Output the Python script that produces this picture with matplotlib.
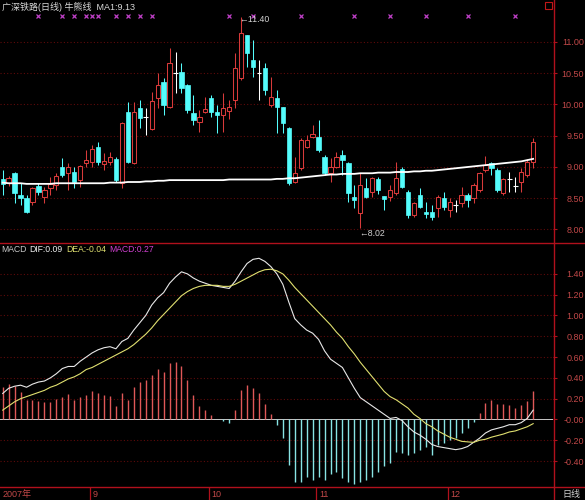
import numpy as np
import matplotlib
matplotlib.use("Agg")
import matplotlib.pyplot as plt
from matplotlib.lines import Line2D
from matplotlib.patches import Rectangle

plt.rcParams['font.family'] = ['Liberation Sans', 'Noto Sans CJK SC', 'DejaVu Sans']

# ---- data (one value per trading day) ----
title_text = "广深铁路(日线) 牛熊线"

open_ = np.array([
    8.80, 8.74, 8.90, 8.55, 8.50, 8.44, 8.70, 8.52, 8.66, 8.71,
    9.00, 8.90, 8.92, 8.79, 9.06, 9.08, 9.32, 9.05, 9.08, 9.13,
    8.75, 9.88, 9.06, 9.94, 9.80, 9.61, 10.10, 10.36, 9.96, 10.50,
    10.52, 10.31, 9.86, 9.72, 9.88, 10.10, 9.88, 9.83, 9.90, 10.07,
    10.42, 11.11, 10.71, 10.50, 10.58, 9.99, 10.10, 9.96, 9.62, 8.76,
    8.98, 9.32, 9.48, 9.48, 9.16, 8.90, 9.00, 9.19, 9.06, 8.52,
    8.26, 8.66, 8.60, 8.81, 8.54, 8.52, 8.58, 8.97, 8.60, 8.23,
    8.55, 8.28, 8.28, 8.34, 8.50, 8.31, 8.39, 8.42, 8.55, 8.50,
    8.63, 8.95, 9.06, 8.95, 8.58, 8.81, 8.70, 8.76, 8.87, 9.08])
high = np.array([
    8.95, 8.85, 8.92, 8.74, 8.55, 8.68, 8.75, 8.68, 8.84, 8.90,
    9.14, 9.06, 9.00, 9.03, 9.27, 9.35, 9.40, 9.22, 9.24, 9.16,
    9.72, 10.04, 10.04, 10.07, 9.94, 10.20, 10.50, 10.42, 10.90, 10.84,
    10.66, 10.33, 10.15, 9.91, 10.12, 10.15, 9.99, 10.18, 10.07, 10.82,
    11.40, 11.11, 11.03, 10.71, 10.66, 10.44, 10.23, 9.96, 9.64, 9.16,
    9.46, 9.51, 9.67, 9.75, 9.19, 9.14, 9.24, 9.27, 9.08, 8.71,
    8.90, 8.82, 8.84, 8.84, 8.54, 8.71, 9.08, 9.00, 8.63, 8.44,
    8.66, 8.44, 8.39, 8.55, 8.60, 8.50, 8.47, 8.68, 8.58, 8.74,
    8.92, 9.18, 9.08, 8.98, 8.82, 8.92, 8.84, 8.98, 9.13, 9.46])
low = np.array([
    8.55, 8.70, 8.42, 8.39, 8.26, 8.39, 8.55, 8.42, 8.55, 8.63,
    8.84, 8.63, 8.66, 8.68, 9.00, 9.00, 9.03, 8.95, 9.03, 8.76,
    8.66, 9.06, 9.05, 9.62, 9.51, 9.59, 9.94, 9.83, 9.94, 10.18,
    10.18, 9.86, 9.67, 9.56, 9.86, 9.80, 9.54, 9.56, 9.77, 9.94,
    10.39, 10.60, 10.44, 10.07, 10.15, 9.96, 9.54, 9.54, 8.71, 8.74,
    8.95, 9.30, 9.46, 9.24, 8.87, 8.76, 8.98, 8.87, 8.44, 8.34,
    8.02, 8.50, 8.52, 8.57, 8.31, 8.46, 8.55, 8.66, 8.18, 8.20,
    8.34, 8.18, 8.15, 8.20, 8.31, 8.20, 8.28, 8.36, 8.36, 8.42,
    8.60, 8.92, 8.87, 8.60, 8.55, 8.60, 8.60, 8.60, 8.84, 8.98])
close = np.array([
    8.72, 8.82, 8.58, 8.50, 8.28, 8.66, 8.60, 8.63, 8.73, 8.86,
    8.87, 9.00, 8.76, 9.02, 9.11, 9.29, 9.08, 9.10, 9.16, 8.79,
    9.70, 9.08, 9.88, 9.78, 9.80, 10.06, 10.31, 9.99, 10.66, 10.50,
    10.26, 9.91, 9.75, 9.80, 9.93, 9.88, 9.83, 9.94, 9.96, 10.58,
    11.14, 10.82, 10.60, 10.50, 10.23, 10.12, 9.96, 9.70, 8.74, 8.90,
    9.43, 9.43, 9.53, 9.27, 8.90, 9.00, 9.16, 9.11, 8.58, 8.47,
    8.71, 8.52, 8.82, 8.63, 8.49, 8.63, 8.82, 8.68, 8.23, 8.42,
    8.36, 8.24, 8.20, 8.52, 8.36, 8.44, 8.39, 8.55, 8.47, 8.71,
    8.90, 9.03, 8.98, 8.63, 8.81, 8.81, 8.70, 8.92, 9.08, 9.40])
ma1 = np.array([
    8.75, 8.74, 8.74, 8.74, 8.73, 8.73, 8.73, 8.73, 8.73, 8.74,
    8.74, 8.74, 8.74, 8.74, 8.74, 8.74, 8.74, 8.74, 8.75, 8.75,
    8.75, 8.76, 8.76, 8.76, 8.77, 8.77, 8.78, 8.78, 8.79, 8.79,
    8.79, 8.79, 8.79, 8.79, 8.79, 8.79, 8.79, 8.79, 8.80, 8.80,
    8.80, 8.80, 8.80, 8.80, 8.80, 8.80, 8.81, 8.81, 8.82, 8.82,
    8.83, 8.84, 8.85, 8.86, 8.87, 8.88, 8.88, 8.89, 8.89, 8.89,
    8.90, 8.90, 8.90, 8.91, 8.91, 8.91, 8.92, 8.92, 8.92, 8.93,
    8.93, 8.94, 8.94, 8.95, 8.96, 8.97, 8.98, 8.99, 9.00, 9.01,
    9.02, 9.03, 9.04, 9.05, 9.06, 9.07, 9.08, 9.09, 9.11, 9.13])

dif = np.array([
    0.25, 0.30, 0.32, 0.33, 0.31, 0.34, 0.36, 0.37, 0.40, 0.44,
    0.49, 0.51, 0.51, 0.56, 0.60, 0.64, 0.67, 0.69, 0.70, 0.68,
    0.75, 0.78, 0.86, 0.93, 1.00, 1.10, 1.17, 1.22, 1.31, 1.37,
    1.42, 1.40, 1.36, 1.33, 1.31, 1.29, 1.28, 1.27, 1.26, 1.33,
    1.42, 1.50, 1.54, 1.55, 1.52, 1.47, 1.40, 1.30, 1.13, 0.97,
    0.91, 0.86, 0.83, 0.77, 0.66, 0.58, 0.54, 0.50, 0.40, 0.30,
    0.21, 0.17, 0.13, 0.09, 0.05, 0.01, 0.02, -0.01, -0.07, -0.12,
    -0.15, -0.19, -0.24, -0.26, -0.27, -0.28, -0.29, -0.28, -0.26, -0.22,
    -0.18, -0.13, -0.10, -0.085, -0.07, -0.05, -0.05, -0.03, 0.01, 0.09])
dea = np.array([
    0.09, 0.13, 0.17, 0.20, 0.22, 0.24, 0.26, 0.28, 0.31, 0.33,
    0.36, 0.39, 0.41, 0.44, 0.48, 0.50, 0.53, 0.56, 0.59, 0.62,
    0.65, 0.68, 0.72, 0.77, 0.82, 0.88, 0.95, 1.01, 1.07, 1.13,
    1.19, 1.23, 1.26, 1.28, 1.29, 1.29, 1.29, 1.28, 1.28, 1.30,
    1.33, 1.36, 1.39, 1.42, 1.44, 1.445, 1.43, 1.40, 1.34, 1.27,
    1.21, 1.15, 1.09, 1.03, 0.97, 0.91, 0.84, 0.78, 0.70, 0.63,
    0.55, 0.48, 0.41, 0.34, 0.27, 0.22, 0.19, 0.15, 0.11, 0.05,
    0.01, -0.04, -0.07, -0.11, -0.14, -0.17, -0.19, -0.21, -0.215, -0.22,
    -0.20, -0.19, -0.17, -0.155, -0.14, -0.12, -0.11, -0.09, -0.07, -0.04])
macd = np.array([
    0.315, 0.346, 0.322, 0.268, 0.188, 0.188, 0.18, 0.17, 0.17, 0.20,
    0.22, 0.245, 0.19, 0.22, 0.235, 0.277, 0.258, 0.235, 0.226, 0.13,
    0.25, 0.19, 0.315, 0.36, 0.38, 0.43, 0.49, 0.46, 0.54, 0.556,
    0.51, 0.38, 0.235, 0.13, 0.09, 0.043, 0.005, -0.015, -0.03, 0.09,
    0.283, 0.33, 0.30, 0.25, 0.15, 0.053, -0.053, -0.18, -0.44, -0.60,
    -0.60, -0.55, -0.58, -0.55, -0.58, -0.52, -0.50, -0.56, -0.60, -0.62,
    -0.60, -0.58, -0.55, -0.50, -0.45, -0.42, -0.31, -0.325, -0.34, -0.325,
    -0.29, -0.26, -0.34, -0.245, -0.23, -0.197, -0.18, -0.127, -0.085, -0.02,
    0.06, 0.156, 0.19, 0.146, 0.146, 0.14, 0.107, 0.14, 0.18, 0.27])

signal_days = [6, 10, 12, 14, 15, 16, 19, 21, 23, 25, 38, 42, 50, 59, 65, 71, 78, 86]
month_labels = ["2007年", "9", "10", "11", "12"]
month_start = [0, 15, 35, 53, 75]

price_ticks = [8.0, 8.5, 9.0, 9.5, 10.0, 10.5, 11.0]
macd_ticks = [-0.4, -0.2, 0.0, 0.2, 0.4, 0.6, 0.8, 1.0, 1.2, 1.4]
macd_tick_labels = ["-0.40", "-0.20", "-0.00", "0.20", "0.40", "0.60",
                    "0.80", "1.00", "1.20", "1.40"]

# ---- colours ----
RED = '#d83a3a'
CYAN = '#54fcfc'
FRAME = '#b0101c'
GRID = '#5e0a0a'
LABEL = '#c04848'

W, H = 585, 500
fig = plt.figure(figsize=(W / 100, H / 100), dpi=100, facecolor='black')


def px_axes(x0, y0, x1, y1):
    ax = fig.add_axes([x0 / W, 1 - y1 / H, (x1 - x0) / W, (y1 - y0) / H])
    ax.set_facecolor('black')
    for s in ax.spines.values():
        s.set_visible(False)
    ax.set_xlim(-0.45, 92.33)
    ax.set_xticks([])
    return ax


ax_p = px_axes(0, 0, 553, 243)
ax_m = px_axes(0, 243, 553, 487)
ax_d = px_axes(0, 487, 553, 500)

idx = np.arange(len(close))

# ---- price panel ----
ax_p.set_ylim(7.784, 11.672)
wick_colors = np.where(close > open_, RED, np.where(close < open_, CYAN, 'white'))
ax_p.vlines(idx, low, high, colors=wick_colors, linewidth=0.75, zorder=2)
up = close > open_
dn = close < open_
fl = close == open_
ax_p.bar(idx[up], close[up] - open_[up], bottom=open_[up], width=0.72,
         facecolor='black', edgecolor=RED, linewidth=0.75, zorder=3)
ax_p.bar(idx[dn], open_[dn] - close[dn], bottom=close[dn], width=0.72,
         facecolor=CYAN, edgecolor=CYAN, linewidth=0.5, zorder=3)
ax_p.hlines(close[fl], idx[fl] - 0.4, idx[fl] + 0.4, colors='white', linewidth=0.8, zorder=3)
ax_p.plot(idx, ma1, color='white', linewidth=1.3, zorder=4)

i_hi = int(np.argmax(high))
i_lo = int(np.argmin(low))
ax_p.annotate(f"←{high[i_hi]:.2f}", xy=(i_hi, high[i_hi]), xytext=(-1, -1.5),
              textcoords='offset points', ha='left', va='center',
              color='#d0d0d0', fontsize=6.3)
ax_p.annotate(f"←{low[i_lo]:.2f}", xy=(i_lo, low[i_lo]), xytext=(-1, -3.5),
              textcoords='offset points', ha='left', va='center',
              color='#d0d0d0', fontsize=6.3)

ax_p.plot(signal_days, [0.936] * len(signal_days), transform=ax_p.get_xaxis_transform(),
          linestyle='none', marker='x', markersize=2.6, markeredgewidth=0.9, color='#c040c8')

ax_p.yaxis.tick_right()
ax_p.set_yticks(price_ticks)
ax_p.set_yticklabels([f"{v:.2f}" for v in price_ticks])
ax_p.grid(axis='y', color=GRID, linestyle=(0, (1, 2)), linewidth=0.8)
ax_p.set_axisbelow(True)

# ---- MACD panel ----
ax_m.set_ylim(-0.649, 1.697)
ax_m.axhline(0, color='#c8c8c8', linewidth=0.7, zorder=2)
bar_colors = np.where(macd >= 0, '#e05858', '#88e4e4')
ax_m.vlines(idx, 0, macd, colors=bar_colors, linewidth=1.0, zorder=3)
ax_m.plot(idx, dif, color='#e8e8e8', linewidth=0.8, zorder=4)
ax_m.plot(idx, dea, color='#e0e070', linewidth=0.8, zorder=4)
ax_m.yaxis.tick_right()
ax_m.set_yticks(macd_ticks)
ax_m.set_yticklabels(macd_tick_labels)
ax_m.grid(axis='y', color=GRID, linestyle=(0, (1, 2)), linewidth=0.8)
ax_m.set_axisbelow(True)

for ax in (ax_p, ax_m):
    ax.tick_params(axis='y', colors=FRAME, labelcolor=LABEL, labelsize=6.5,
                   length=3, width=0.8, pad=19.5)
    for lab in ax.get_yticklabels():
        lab.set_horizontalalignment('right')

# legend texts of the MACD panel
ly = 1 - 250 / H
fig.text(1 / W, ly, "MACD", color='#c8c8c8', fontsize=6.2, va='center')
fig.text(29 / W, ly, f"DIF:{dif[-1]:.2f}", color='#f0f0f0', fontsize=6.2, va='center')
fig.text(66 / W, ly, f"DEA:{dea[-1]:.2f}", color='#e0e070', fontsize=6.2, va='center')
fig.text(109 / W, ly, f"MACD:{macd[-1]:.2f}", color='#d040d0', fontsize=6.2, va='center')

# title
fig.text(2 / W, 1 - 7 / H, f"{title_text}  MA1:{ma1[-1]:.2f}", color='#d8d8d8',
         fontsize=6.5, va='center', ha='left')

# ---- date strip ----
ax_d.set_ylim(0, 1)
ax_d.set_yticks([])
for k, (lab, s) in enumerate(zip(month_labels, month_start)):
    if k > 0:
        ax_d.axvline(s - 0.35, color=FRAME, linewidth=0.9)
    ax_d.text(s + 0.05, 0.45, lab, color=LABEL, fontsize=6.5, va='center', ha='left')
fig.text(571 / W, 1 - 494 / H, "日线", color='#d0d0d0', fontsize=6.5, va='center', ha='center')

# frame lines
for ypx in (243, 487):
    fig.add_artist(Line2D([0, 1], [1 - ypx / H] * 2, transform=fig.transFigure,
                          color=FRAME, linewidth=1.0))
fig.add_artist(Line2D([553.5 / W] * 2, [0, 1], transform=fig.transFigure,
                      color=FRAME, linewidth=1.0))
fig.add_artist(Rectangle((545 / W, 1 - 9 / H), 7 / W, 7 / H, transform=fig.transFigure,
                         fill=False, edgecolor='#c01818', linewidth=0.8))

fig.savefig("out.png", dpi=100, facecolor='black')
